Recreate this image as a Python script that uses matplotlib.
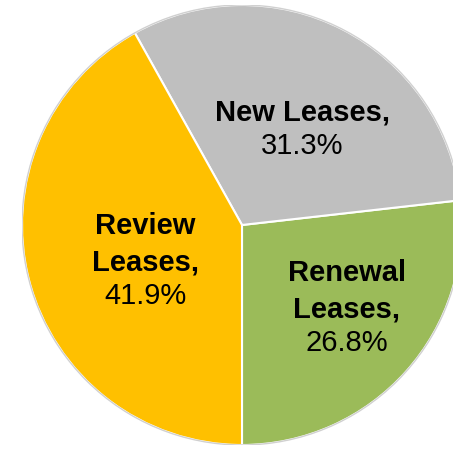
import matplotlib.pyplot as plt
from matplotlib.patches import Circle

plt.rcParams['font.family'] = ['Liberation Sans', 'DejaVu Sans']

# slice data (counter-clockwise from the bottom)
names = ["Renewal\nLeases,", "New Leases,", "Review\nLeases,"]
shares = [26.8, 31.3, 41.9]
colors = ["#9BBB59", "#BFBFBF", "#FFC000"]

# where the split between name and percentage sits, in pie units
label_pos = [(0.477, -0.455), (0.273, 0.44), (-0.44, -0.24)]

fig = plt.figure(figsize=(4.53, 4.5), dpi=100)
ax = fig.add_axes([22 / 453, 5 / 450, 440 / 453, 440 / 450])

ax.pie(shares, colors=colors, startangle=-90, counterclock=True,
       radius=1.0, wedgeprops=dict(edgecolor="white", linewidth=1.5))
# faint outline round the pie
ax.add_patch(Circle((0, 0), 1.0, fill=False, edgecolor="#D0D0D0", linewidth=1.0))

for name, share, (x, y) in zip(names, shares, label_pos):
    ax.annotate(name, xy=(x, y), xytext=(0, 1), textcoords="offset points",
                ha="center", va="bottom", fontsize=21, fontweight="bold",
                linespacing=1.38)
    ax.annotate(f"{share:.1f}%", xy=(x, y), xytext=(0, -3),
                textcoords="offset points", ha="center", va="top", fontsize=21)

ax.set_xlim(-1, 1)
ax.set_ylim(-1, 1)
ax.set_aspect("equal")
ax.axis("off")

fig.savefig("out.png", dpi=100)
